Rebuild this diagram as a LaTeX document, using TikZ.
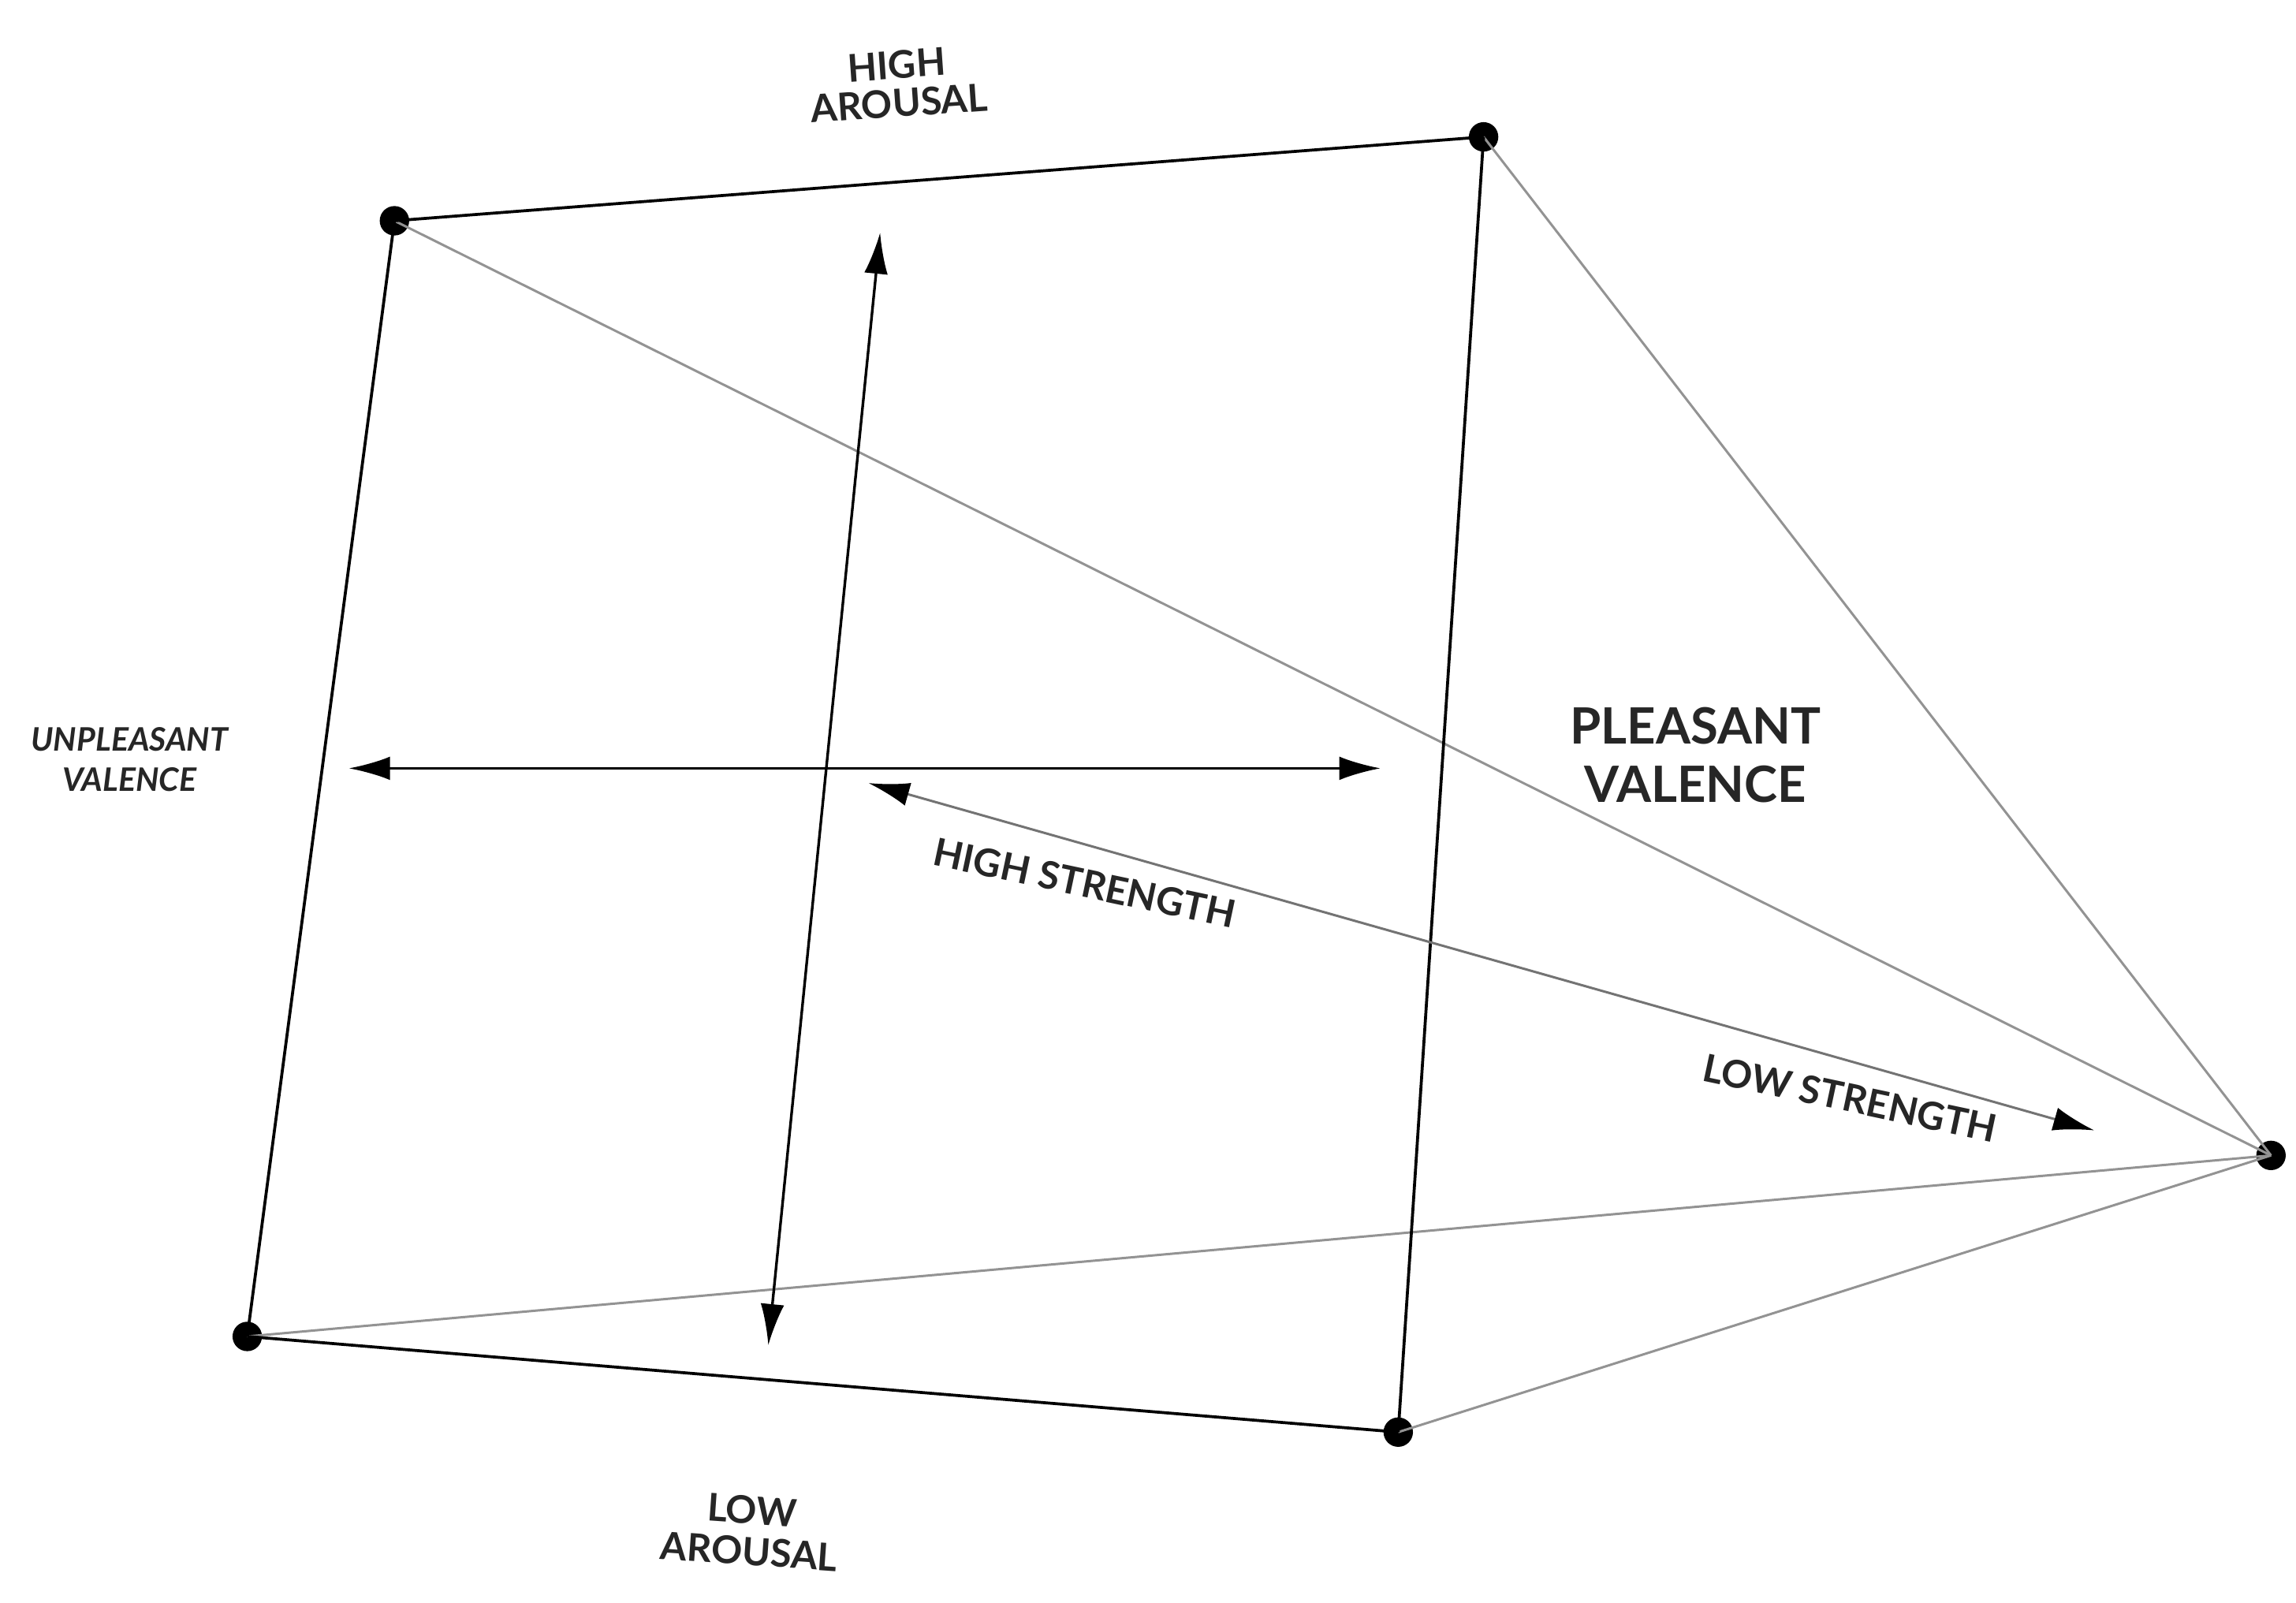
\documentclass[tikz,border=0pt]{standalone}
\usepackage{fontspec}
\setmainfont{Lato}
\usetikzlibrary{arrows.meta}
\begin{document}
\begin{tikzpicture}[x=1pt,y=-1pt,
  dot/.style={circle,fill=black,inner sep=0pt,minimum size=20pt},
  edge/.style={line width=2pt,black},
  gedge/.style={line width=1.6pt,gray!85},
  axis/.style={line width=1.8pt,{Latex[length=28pt,width=16pt]}-{Latex[length=28pt,width=16pt]}},
  saxis/.style={line width=1.6pt,draw=gray!90!black,{Latex[length=28pt,width=16pt,color=black]}-{Latex[length=28pt,width=16pt,color=black]}},
  lbl/.style={font=\fontsize{26}{30}\selectfont\bfseries,align=center,text=black!85}]
\useasboundingbox[fill=white] (0,0) rectangle (1560,1089);
\node[dot] (A) at (268,150) {};
\node[dot] (B) at (1008,93) {};
\node[dot] (C) at (1543,785) {};
\node[dot] (D) at (168,908) {};
\node[dot] (E) at (950,973) {};
\draw[gedge] (A.center) -- (C.center);
\draw[gedge] (B.center) -- (C.center);
\draw[gedge] (D.center) -- (C.center);
\draw[gedge] (E.center) -- (C.center);
\draw[edge] (A.center) -- (B.center);
\draw[edge] (B.center) -- (E.center);
\draw[edge] (A.center) -- (D.center);
\draw[edge] (D.center) -- (E.center);
\coordinate (v1) at (598,158);
\coordinate (v2) at (522,914);
\coordinate (h1) at (237,522);
\coordinate (h2) at (938,522);
\coordinate (s1) at (590,532);
\coordinate (s2) at (1423,768);
\draw[axis] (v1) -- (v2);
\draw[axis] (h1) -- (h2);
\draw[saxis] (s1) -- (s2);
\node[lbl,rotate=4] (ha) at (610,57) {HIGH\\[-4pt]AROUSAL};
\node[lbl,rotate=-4] (la) at (510,1040) {LOW\\[-2pt]AROUSAL};
\node[lbl,font=\fontsize{22}{27}\selectfont\bfseries\itshape] (uv) at (88,516) {UNPLEASANT\\VALENCE};
\node[lbl,font=\fontsize{34}{40}\selectfont\bfseries] (pv) at (1152,513) {PLEASANT\\VALENCE};
\node[lbl,rotate=-12] (hs) at (737,600) {HIGH STRENGTH};
\node[lbl,rotate=-12] (ls) at (1257,746) {LOW STRENGTH};
\end{tikzpicture}
\end{document}
